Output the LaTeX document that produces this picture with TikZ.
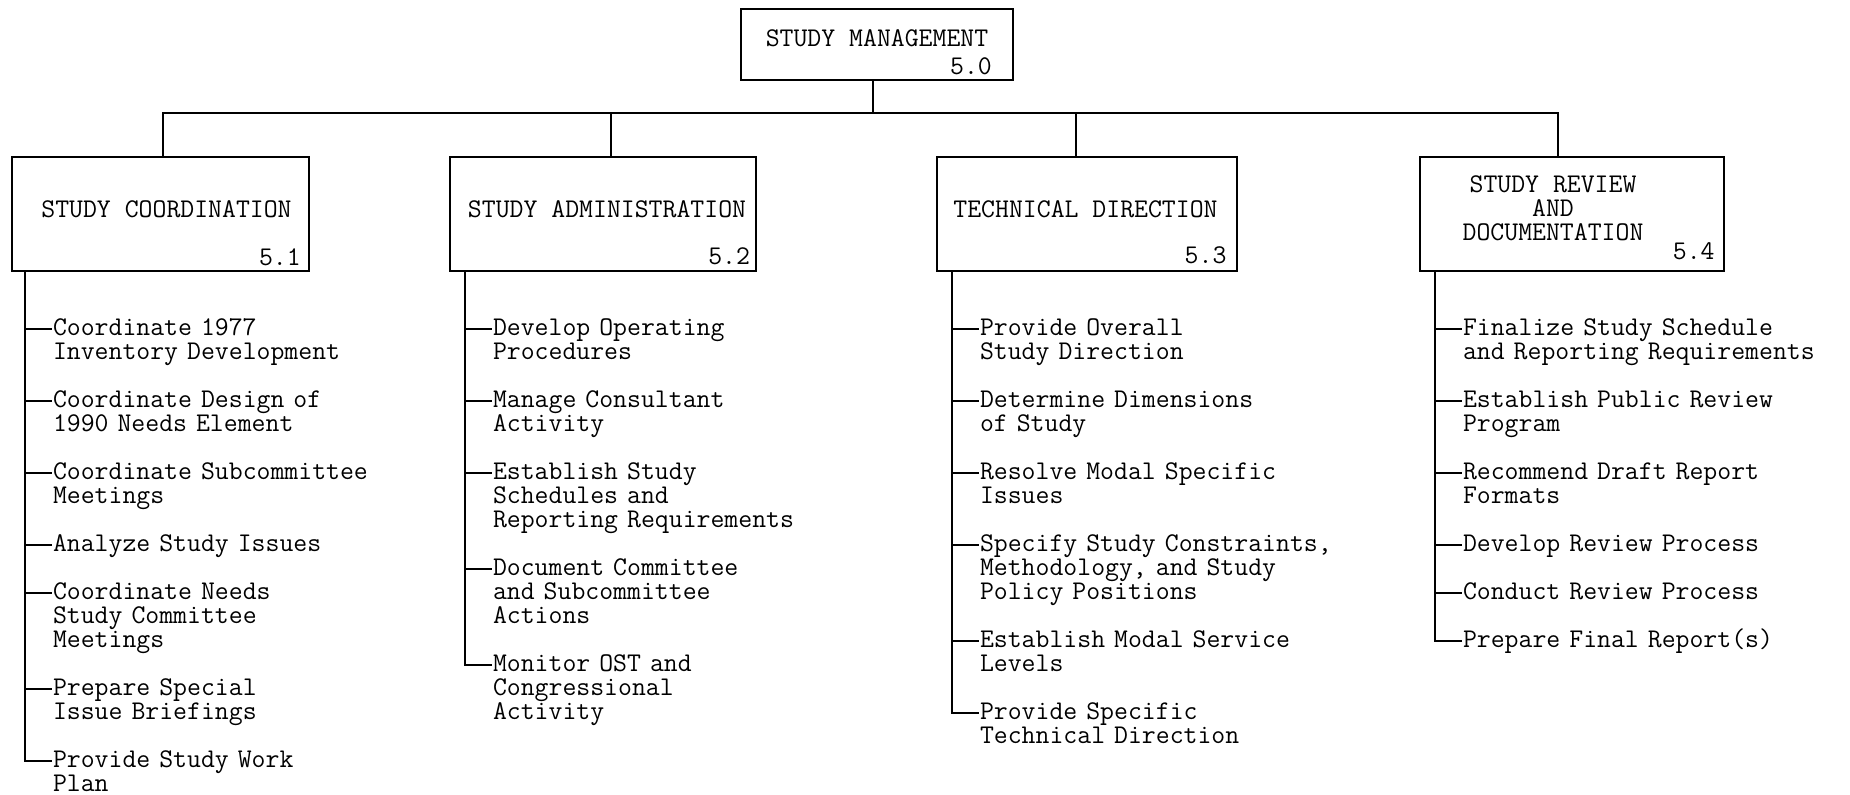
\documentclass[tikz,border=0pt]{standalone}
\usepackage{fontspec}
\usetikzlibrary{positioning}
\tikzset{
  tw/.style={font=\ttfamily\fontsize{13.5}{12}\selectfont,inner sep=0pt},
  box/.style={draw,minimum height=57pt,inner sep=0pt},
  num/.style={tw},
  item/.style={tw,anchor=base west,align=left,text width=190pt}
}

\begin{document}
\begin{tikzpicture}[x=0.5pt,y=-0.5pt,line width=1.1pt]
   \useasboundingbox (0,0) rectangle (1850,794);
   \node[box,minimum width=136pt,minimum height=35.5pt] (mgmt) at (877,44.5) {};
   \node[tw] (mgmttitle) at ([yshift=3.2pt]mgmt.center) {STUDY MANAGEMENT};
   \node[num,above left=2.8pt and 10.6pt of mgmt.south east] (mgmtnum) {5.0};

   \node[box,minimum width=148.5pt] (coord) at (160.5,214) {};
   \node[tw] (coordtitle) at ([xshift=3pt,yshift=2.5pt]coord.center) {STUDY COORDINATION};
   \node[num,above left=2.5pt and 4.1pt of coord.south east] (coordnum) {5.1};

   \node[box,minimum width=153pt] (admin) at (603,214) {};
   \node[tw] (admintitle) at ([xshift=2pt,yshift=2.5pt]admin.center) {STUDY ADMINISTRATION};
   \node[num,above left=3.1pt and 3pt of admin.south east] (adminnum) {5.2};

   \node[box,minimum width=150pt] (tech) at (1087,214) {};
   \node[tw] (techtitle) at ([xshift=-0.75pt,yshift=2.5pt]tech.center) {TECHNICAL DIRECTION};
   \node[num,above left=3.7pt and 5.3pt of tech.south east] (technum) {5.3};

   \node[box,minimum width=152pt] (review) at (1572,214) {};
   \node[tw,align=center] (reviewtitle) at ([xshift=-9.5pt,yshift=3pt]review.center) {STUDY REVIEW\\AND\\DOCUMENTATION};
   \node[num,above left=5.5pt and 4.7pt of review.south east] (reviewnum) {5.4};

   \coordinate (bus) at (873,113);
   \draw (mgmt.south -| bus) -- (bus);
   \draw ([xshift=1.25pt]coord.north) |- ([xshift=-7pt]review.north |- bus) -- ([xshift=-7pt]review.north);
   \draw ([xshift=4pt]admin.north) -- ([xshift=4pt]admin.north |- bus);
   \draw ([xshift=-5.5pt]tech.north) -- ([xshift=-5.5pt]tech.north |- bus);

   \coordinate (coordspine) at ([xshift=7pt]coord.south west);
   \node[item] (coord1) at ([xshift=13.5pt,yshift=-31.5pt]coordspine) {Coordinate 1977\\Inventory Development};
   \node[item] (coord2) at ([yshift=-36pt]coord1.base west) {Coordinate Design of\\1990 Needs Element};
   \node[item] (coord3) at ([yshift=-36pt]coord2.base west) {Coordinate Subcommittee\\Meetings};
   \node[item] (coord4) at ([yshift=-36pt]coord3.base west) {Analyze Study Issues};
   \node[item] (coord5) at ([yshift=-24pt]coord4.base west) {Coordinate Needs\\Study Committee\\Meetings};
   \node[item] (coord6) at ([yshift=-48pt]coord5.base west) {Prepare Special\\Issue Briefings};
   \node[item] (coord7) at ([yshift=-36pt]coord6.base west) {Provide Study Work\\Plan};
   \draw (coordspine) |- ([yshift=3pt]coord7.base west);
   \foreach \i in {1,...,6}
     \draw ([yshift=3pt]coord\i.base west -| coordspine) -- ([yshift=3pt]coord\i.base west);

   \coordinate (adminspine) at ([xshift=8pt]admin.south west);
   \node[item] (admin1) at ([xshift=13.5pt,yshift=-31.5pt]adminspine) {Develop Operating\\Procedures};
   \node[item] (admin2) at ([yshift=-36pt]admin1.base west) {Manage Consultant\\Activity};
   \node[item] (admin3) at ([yshift=-36pt]admin2.base west) {Establish Study\\Schedules and\\Reporting Requirements};
   \node[item] (admin4) at ([yshift=-48pt]admin3.base west) {Document Committee\\and Subcommittee\\Actions};
   \node[item] (admin5) at ([yshift=-48pt]admin4.base west) {Monitor OST and\\Congressional\\Activity};
   \draw (adminspine) |- ([yshift=3pt]admin5.base west);
   \foreach \i in {1,...,4}
     \draw ([yshift=3pt]admin\i.base west -| adminspine) -- ([yshift=3pt]admin\i.base west);

   \coordinate (techspine) at ([xshift=8pt]tech.south west);
   \node[item] (tech1) at ([xshift=13.5pt,yshift=-31.5pt]techspine) {Provide Overall\\Study Direction};
   \node[item] (tech2) at ([yshift=-36pt]tech1.base west) {Determine Dimensions\\of Study};
   \node[item] (tech3) at ([yshift=-36pt]tech2.base west) {Resolve Modal Specific\\Issues};
   \node[item] (tech4) at ([yshift=-36pt]tech3.base west) {Specify Study Constraints,\\Methodology, and Study\\Policy Positions};
   \node[item] (tech5) at ([yshift=-48pt]tech4.base west) {Establish Modal Service\\Levels};
   \node[item] (tech6) at ([yshift=-36pt]tech5.base west) {Provide Specific\\Technical Direction};
   \draw (techspine) |- ([yshift=3pt]tech6.base west);
   \foreach \i in {1,...,5}
     \draw ([yshift=3pt]tech\i.base west -| techspine) -- ([yshift=3pt]tech\i.base west);

   \coordinate (reviewspine) at ([xshift=8pt]review.south west);
   \node[item] (review1) at ([xshift=13.5pt,yshift=-31.5pt]reviewspine) {Finalize Study Schedule\\and Reporting Requirements};
   \node[item] (review2) at ([yshift=-36pt]review1.base west) {Establish Public Review\\Program};
   \node[item] (review3) at ([yshift=-36pt]review2.base west) {Recommend Draft Report\\Formats};
   \node[item] (review4) at ([yshift=-36pt]review3.base west) {Develop Review Process};
   \node[item] (review5) at ([yshift=-24pt]review4.base west) {Conduct Review Process};
   \node[item] (review6) at ([yshift=-24pt]review5.base west) {Prepare Final Report(s)};
   \draw (reviewspine) |- ([yshift=3pt]review6.base west);
   \foreach \i in {1,...,5}
     \draw ([yshift=3pt]review\i.base west -| reviewspine) -- ([yshift=3pt]review\i.base west);
\end{tikzpicture}
\end{document}
